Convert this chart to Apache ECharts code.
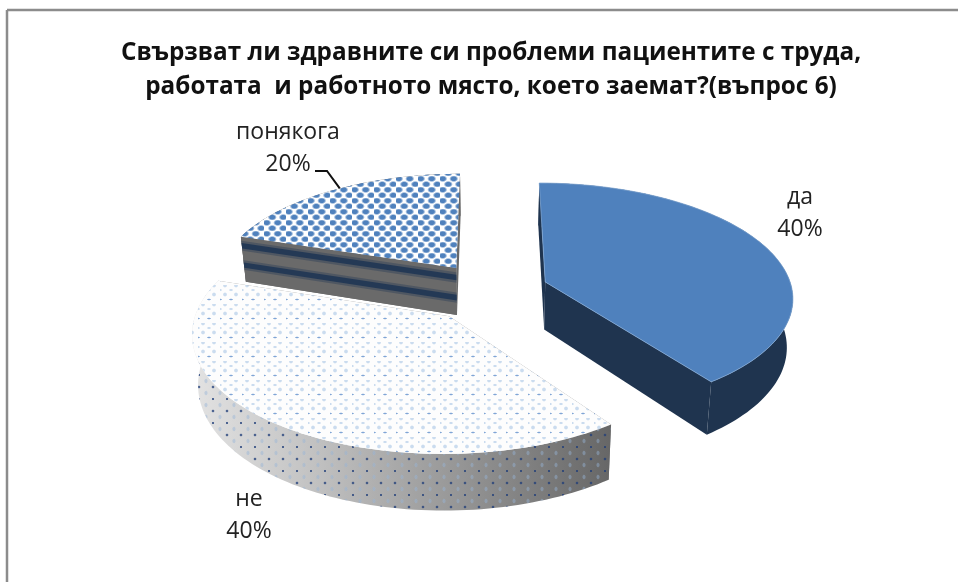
<!DOCTYPE html>
<html><head><meta charset="utf-8">
<style>html,body{margin:0;padding:0;background:#fff}#c{width:958px;height:582px}</style>
<script src="https://cdn.jsdelivr.net/npm/echarts@6/dist/echarts.min.js"></script>
</head><body><div id="c"></div>
<script>
const categories = ['да', 'не', 'понякога'];
const values = [40, 40, 20];
const titleText = 'Свързват ли здравните си проблеми пациентите с труда,\nработата  и работното място, което заемат?(въпрос 6)';

// Explosion and drawn radius of each slice, in pie radii
const explode = [0.233, 0.28, 0.245];
const radius = [1, 1, 0.98];
// Perspective camera fitted to the picture
const cam = { xv: 491, yh: -615, A: 247, K: 905, p: 0.125, H: 48, taper: 0.02 };
const labelAt = [[800, 213], [249, 515], [288, 148]];
const FONT = '"Open Sans", "Noto Sans", sans-serif';

function project(X, Y, h) {
  const s = 1 / (1 - cam.p * Y);
  const t = 1 - cam.taper * h / cam.H;
  return [cam.xv + cam.A * X * s * t, cam.yh + (cam.K + h) * s];
}
function tile(w, h, paint) {
  const c = document.createElement('canvas');
  c.width = w; c.height = h;
  paint(c.getContext('2d'));
  return { image: c, repeat: 'repeat' };
}
function blob(g, x, y, rx, ry, col) {
  g.save(); g.translate(x, y); g.scale(rx, ry);
  const r = g.createRadialGradient(0, 0, 0, 0, 0, 1);
  r.addColorStop(0, col[0]); r.addColorStop(0.55, col[0]); r.addColorStop(1, col[1]);
  g.fillStyle = r; g.beginPath(); g.arc(0, 0, 1, 0, 7); g.fill(); g.restore();
}
const checkTile = tile(22, 11, g => {
  g.fillStyle = '#fff'; g.fillRect(0, 0, 22, 11);
  const c = ['rgba(79,129,189,1)', 'rgba(79,129,189,0)'];
  [[2.75, 2.75], [13.75, 2.75], [8.25, 8.25], [19.25, 8.25]].forEach(d => blob(g, d[0], d[1], 4.6, 3.4, c));
});
const dotTile = tile(22, 19, g => {
  g.fillStyle = '#fdfdfd'; g.fillRect(0, 0, 22, 19);
  const pale = ['rgba(120,165,215,.38)', 'rgba(120,165,215,0)'];
  const deep = ['rgba(85,135,200,.75)', 'rgba(85,135,200,0)'];
  [[5, 0.5], [16, 0.5], [5, 9.5], [16, 9.5]].forEach(d => blob(g, d[0], d[1], 2.4, 2.4, pale));
  [[0, 5], [11, 5]].forEach(d => blob(g, d[0], d[1], 2.2, 1.6, pale));
  [[0, 14.5], [11, 14.5]].forEach(d => blob(g, d[0], d[1], 2.2, 1.2, deep));
});
const wallDotTile = tile(28, 24, g => {
  const pale = ['rgba(150,180,215,.45)', 'rgba(150,180,215,0)'];
  const deep = ['rgba(30,60,120,.75)', 'rgba(30,60,120,0)'];
  [[3, 3], [17, 3]].forEach(d => blob(g, d[0], d[1], 1.8, 1.8, deep));
  [[10, 9], [24, 9]].forEach(d => blob(g, d[0], d[1], 2, 2.8, pale));
  [[3, 15], [17, 15]].forEach(d => blob(g, d[0], d[1], 1.6, 1.6, deep));
  [[10, 21], [24, 21]].forEach(d => blob(g, d[0], d[1], 2, 2.8, pale));
});
const wallShade = new echarts.graphic.LinearGradient(195, 0, 612, 0, [
  { offset: 0, color: '#e2e2e2' }, { offset: 0.25, color: '#c6c6c6' },
  { offset: 0.6, color: '#9a9a9a' }, { offset: 1, color: '#666666' }
], true);

const total = values.reduce((a, b) => a + b, 0);
const drawOrder = [1, 2, 0];
const looks = [
  { top: '#4F81BD', side: '#1F344F', wall: '#1F344F', rim: '#7FA6D3' },
  { top: dotTile, side: '#8a8a8a', wall: wallShade, over: wallDotTile },
  { top: checkTile, side: '#6a6a6a', wall: '#6a6a6a', stripes: [0.2, 0.63] }
];

function spans() {
  let a = 0;
  return values.map(v => { const b = a + v / total * 360; const r = [a, b]; a = b; return r; });
}

function renderItem(params, api) {
  const i = drawOrder[params.dataIndex];
  const [a0, a1] = spans()[i];
  const mid = (a0 + a1) / 2 * Math.PI / 180;
  const ox = explode[i] * Math.sin(mid), oy = -explode[i] * Math.cos(mid);
  const at = (deg, h) => {
    const t = deg * Math.PI / 180;
    return project(ox + radius[i] * Math.sin(t), oy - radius[i] * Math.cos(t), h);
  };
  const centre = h => project(ox, oy, h);
  const arc = h => { const o = []; for (let d = a0; d <= a1 + 1e-6; d += 1.5) o.push(at(d, h)); return o; };
  const look = looks[i];
  const kids = [];
  const poly = (points, style) => kids.push({ type: 'polygon', shape: { points }, style });
  const face = deg => [centre(0), at(deg, 0), at(deg, cam.H), centre(cam.H)];
  poly(face(a0), { fill: look.side });
  poly(face(a1), { fill: look.side });
  const wall = arc(0).concat(arc(cam.H).reverse());
  poly(wall, { fill: look.wall });
  if (look.over) poly(wall, { fill: look.over });
  if (look.stripes) {
    poly(face(a0), { fill: look.side });
    const lerp = (p, q, f) => [p[0] + (q[0] - p[0]) * f, p[1] + (q[1] - p[1]) * f];
    const e0 = at(a0, 0), e1 = at(a0, cam.H), c0 = centre(0), c1 = centre(cam.H);
    look.stripes.forEach(f => {
      [[0.11, 0.35], [0.06, 0.85]].forEach(([w, al]) => {
        poly([lerp(e0, e1, f - w), lerp(c0, c1, f - w), lerp(c0, c1, f + w), lerp(e0, e1, f + w)],
          { fill: 'rgba(28,52,84,' + al + ')' });
      });
    });
  }
  const topStyle = { fill: look.top };
  if (look.rim) { topStyle.stroke = look.rim; topStyle.lineWidth = 0.8; }
  poly([centre(0)].concat(arc(0)), topStyle);

  const [lx, ly] = labelAt[i];
  kids.push({ type: 'text', x: lx, y: ly, style: {
    text: api.value(2) + '\n' + api.value(1) + '%', fill: '#222', font: '23px ' + FONT,
    align: 'center', verticalAlign: 'middle', lineHeight: 32
  }});
  if (i === 2) {
    const p = at(a0 + (a1 - a0) * 0.53, 0);
    kids.push({ type: 'polyline', shape: { points: [[315, 171], [327, 171], p] },
      style: { stroke: '#111', lineWidth: 2, fill: 'none' } });
  }
  return { type: 'group', children: kids };
}

const chart = echarts.init(document.getElementById('c'), null, { renderer: 'canvas' });
chart.setOption({
  animation: false,
  backgroundColor: '#fff',
  title: {
    text: titleText, left: 486, top: 31, textAlign: 'center',
    textStyle: { fontFamily: FONT, fontWeight: 'bold', fontSize: 24.3, lineHeight: 34, color: '#111' }
  },
  graphic: [
    { type: 'line', shape: { x1: 7, y1: 10, x2: 958, y2: 10 }, style: { stroke: '#8c8c8c', lineWidth: 2.5 } },
    { type: 'line', shape: { x1: 7, y1: 10, x2: 7, y2: 582 }, style: { stroke: '#8c8c8c', lineWidth: 2.5 } }
  ],
  series: [{
    type: 'custom', coordinateSystem: 'none', renderItem,
    data: drawOrder.map(i => [i, values[i], categories[i]]),
    dimensions: [{ name: 'idx', type: 'number' }, { name: 'value', type: 'number' }, { name: 'cat', type: 'ordinal' }]
  }]
});
</script></body></html>
